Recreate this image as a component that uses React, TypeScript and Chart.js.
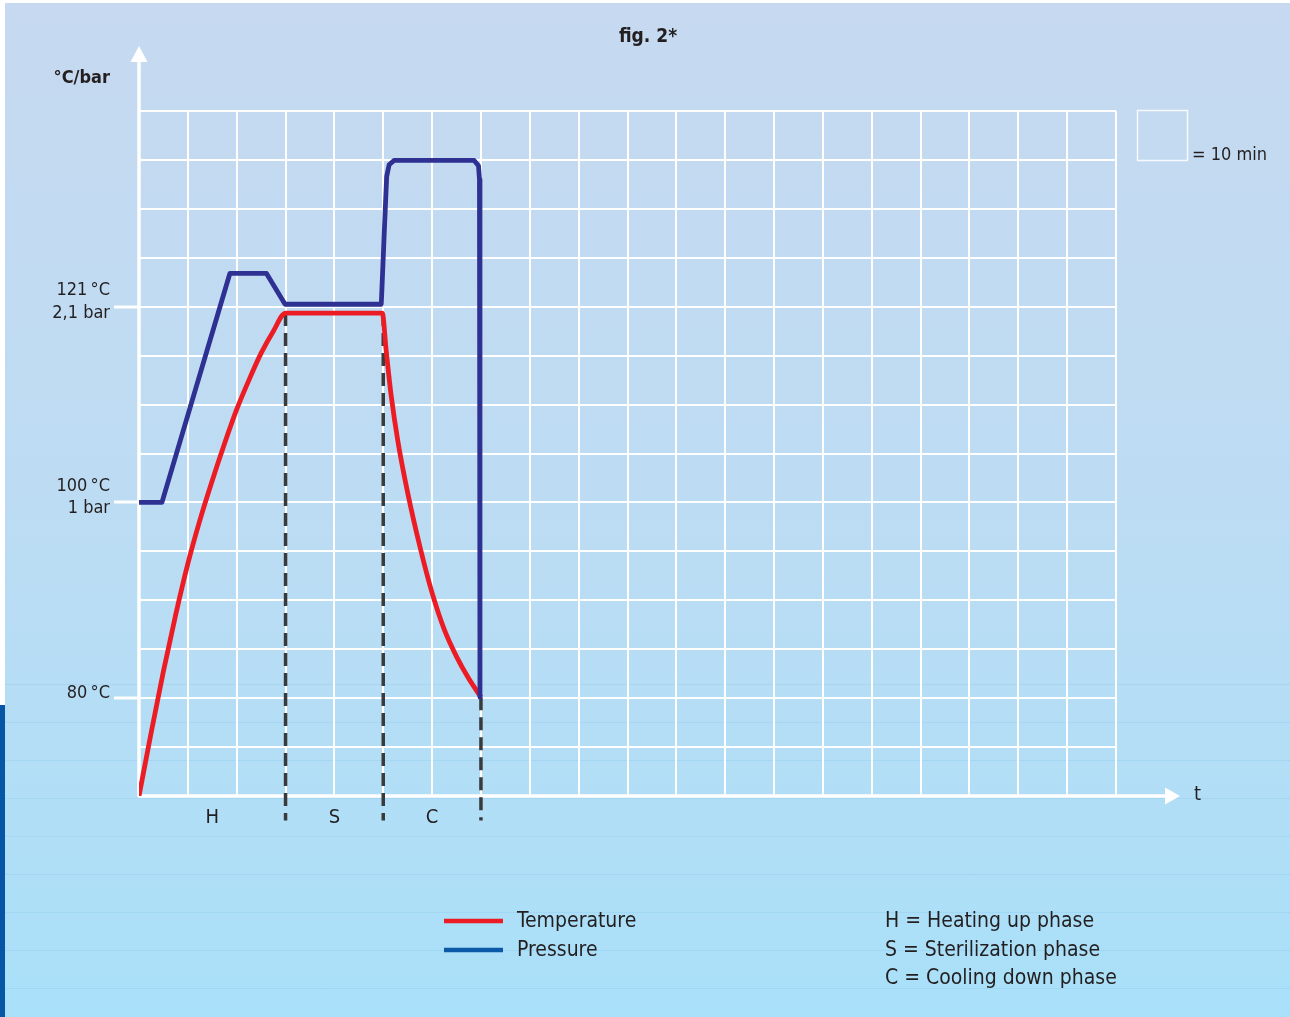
import React, { useEffect, useRef } from "react";
import { Chart, registerables } from "chart.js";

Chart.register(...registerables);

const FONT = '"Liberation Sans Narrow", "DejaVu Sans Condensed", "Open Sans", sans-serif';
const INK = "#231f20";

// x in grid columns (1 column = 10 min), y in grid rows
const tempX = [0, 0.25, 0.5, 0.75, 1.0, 1.25, 1.5, 1.75, 2.0, 2.25, 2.5, 2.75, 3.0, 4.98, 5.06, 5.16, 5.3, 5.5, 5.75, 6.0, 6.25, 6.5, 6.75, 7.0];
const tempY = [0, 1.3, 2.55, 3.7, 4.75, 5.65, 6.45, 7.2, 7.9, 8.5, 9.05, 9.5, 9.87, 9.87, 9.1, 8.2, 7.25, 6.2, 5.1, 4.15, 3.4, 2.85, 2.4, 2.02];

const pressX = [0, 0.47, 1.86, 2.61, 2.99, 4.96, 5.02, 5.07, 5.12, 5.22, 6.86, 6.95, 6.97, 6.98];
const pressY = [6, 6, 10.68, 10.68, 10.05, 10.05, 11.5, 12.66, 12.9, 12.99, 12.99, 12.88, 12.6, 2.02];

const phaseBounds = [3, 5, 7];
const phaseTops = [9.87, 9.87, 2.02];
const phaseBottom = -0.5;

const phaseLetters = ["H", "S", "C"];
const phaseCenters = [1.5, 4, 6];

const yLabelValues = [2, 6, 10];
const yLabelTexts = [["80\u202F°C"], ["100\u202F°C", "1 bar"], ["121\u202F°C", "2,1 bar"]];

const seriesNames = ["Temperature", "Pressure"];
const legendColors = ["#ec1c24", "#0b5aa8"];
const phaseLegend = ["H = Heating up phase", "S = Sterilization phase", "C = Cooling down phase"];

const decor = {
  id: "decor",
  beforeDraw(chart: any) {
    const { ctx, width, height } = chart;
    ctx.save();
    ctx.fillStyle = "#ffffff";
    ctx.fillRect(0, 0, width, height);
    const g = ctx.createLinearGradient(0, 3, 0, height);
    g.addColorStop(0, "#c6d9f0");
    g.addColorStop(0.5, "#bcdcf3");
    g.addColorStop(1, "#a9e0f9");
    ctx.fillStyle = g;
    ctx.fillRect(5, 3, width - 5, height - 3);
    ctx.fillStyle = "#0756a6";
    ctx.fillRect(0, 705, 5, height - 705);
    ctx.strokeStyle = "rgba(120,185,228,0.22)";
    ctx.lineWidth = 1;
    for (let y = 684.5; y < height; y += 38) {
      ctx.beginPath();
      ctx.moveTo(5, y);
      ctx.lineTo(width, y);
      ctx.stroke();
    }
    ctx.restore();
  },
  beforeDatasetsDraw(chart: any) {
    const { ctx, chartArea } = chart;
    const { left, bottom, top } = chartArea;
    ctx.save();
    ctx.strokeStyle = "#ffffff";
    ctx.fillStyle = "#ffffff";
    ctx.lineWidth = 3.5;
    ctx.beginPath();
    ctx.moveTo(left, bottom + 1);
    ctx.lineTo(left, top - 50);
    ctx.stroke();
    ctx.beginPath();
    ctx.moveTo(left, top - 65);
    ctx.lineTo(left - 8.5, top - 49);
    ctx.lineTo(left + 8.5, top - 49);
    ctx.closePath();
    ctx.fill();
    const xEnd = chartArea.right + 50;
    ctx.beginPath();
    ctx.moveTo(left - 1, bottom);
    ctx.lineTo(xEnd, bottom);
    ctx.stroke();
    ctx.beginPath();
    ctx.moveTo(xEnd + 14, bottom);
    ctx.lineTo(xEnd - 1, bottom - 8.5);
    ctx.lineTo(xEnd - 1, bottom + 8.5);
    ctx.closePath();
    ctx.fill();
    ctx.restore();
  },
  afterDraw(chart: any) {
    const { ctx, chartArea, scales } = chart;
    ctx.save();
    ctx.fillStyle = INK;
    ctx.textBaseline = "middle";

    ctx.font = `bold 19px ${FONT}`;
    ctx.textAlign = "center";
    ctx.fillText("fig. 2*", 648, 37);
    ctx.font = `bold 18px ${FONT}`;
    ctx.textAlign = "right";
    ctx.fillText("°C/bar", 110, 78);

    ctx.font = `20px ${FONT}`;
    ctx.textAlign = "left";
    ctx.fillText("t", chartArea.right + 78, chartArea.bottom - 1);

    ctx.textAlign = "center";
    ctx.font = `20px ${FONT}`;
    phaseLetters.forEach((l, i) => {
      ctx.fillText(l, scales.x.getPixelForValue(phaseCenters[i]), chartArea.bottom + 22);
    });

    // scale key square
    ctx.strokeStyle = "rgba(255,255,255,0.85)";
    ctx.lineWidth = 1.5;
    ctx.strokeRect(1137.5, 110.5, 50, 50);
    ctx.font = `18px ${FONT}`;
    ctx.textAlign = "left";
    ctx.fillText("= 10 min", 1192, 155);

    // legend
    ctx.lineWidth = 4.5;
    ctx.font = `21px ${FONT}`;
    seriesNames.forEach((name, i) => {
      const y = 921 + i * 29;
      ctx.strokeStyle = legendColors[i];
      ctx.beginPath();
      ctx.moveTo(444, y);
      ctx.lineTo(503, y);
      ctx.stroke();
      ctx.fillText(name, 517, y + 1);
    });
    phaseLegend.forEach((t, i) => {
      ctx.fillText(t, 885, 922 + i * 28.5);
    });
    ctx.restore();
  },
};

export default function App() {
  const ref = useRef<HTMLCanvasElement>(null);
  useEffect(() => {
    if (!ref.current) return;
    const datasets: any[] = [
      {
        label: seriesNames[1],
        data: pressX.map((x, i) => ({ x, y: pressY[i] })),
        borderColor: "#2e3192",
        borderWidth: 4.8,
        tension: 0,
        borderJoinStyle: "round",
        pointRadius: 0,
      },
      {
        label: seriesNames[0],
        data: tempX.map((x, i) => ({ x, y: tempY[i] })),
        borderColor: "#ec1c24",
        borderWidth: 4.8,
        cubicInterpolationMode: "monotone",
        borderJoinStyle: "round",
        pointRadius: 0,
      },
      ...phaseBounds.map((b, i) => ({
        label: "phase" + i,
        data: [
          { x: b, y: phaseTops[i] },
          { x: b, y: phaseBottom },
        ],
        borderColor: "#3a3a3a",
        borderWidth: 3.5,
        borderDash: [13, 7],
        pointRadius: 0,
        clip: false,
      })),
    ];
    const chart = new Chart(ref.current, {
      type: "line",
      data: { datasets },
      plugins: [decor],
      options: {
        responsive: false,
        animation: false,
        events: [],
        layout: { padding: { left: 0, top: 111, right: 174, bottom: 0 } },
        plugins: { legend: { display: false }, tooltip: { enabled: false } },
        scales: {
          x: {
            type: "linear",
            min: 0,
            max: 20,
            ticks: { display: false, stepSize: 1 },
            grid: { color: "#ffffff", lineWidth: 2, drawTicks: false },
            border: { display: false },
            afterFit: (s: any) => {
              s.height = 221;
            },
          },
          y: {
            type: "linear",
            min: 0,
            max: 14,
            ticks: {
              stepSize: 1,
              padding: 4,
              labelOffset: -5,
              color: INK,
              font: { family: FONT, size: 18, lineHeight: 1.25 },
              callback: (v: any) => {
                const k = yLabelValues.indexOf(Number(v));
                return k >= 0 ? yLabelTexts[k] : "";
              },
            },
            grid: {
              color: "#ffffff",
              lineWidth: 2,
              drawTicks: true,
              tickLength: 25,
              tickWidth: 3,
              tickColor: (c: any) =>
                c.tick && yLabelValues.includes(c.tick.value) ? "#ffffff" : "rgba(0,0,0,0)",
            },
            border: { display: false },
            afterFit: (s: any) => {
              s.width = 139;
            },
          },
        },
      },
    });
    return () => chart.destroy();
  }, []);
  return (
    <div style={{ position: "fixed", left: 0, top: 0, width: 1290, height: 1017 }}>
      <canvas ref={ref} width={1290} height={1017} />
    </div>
  );
}
